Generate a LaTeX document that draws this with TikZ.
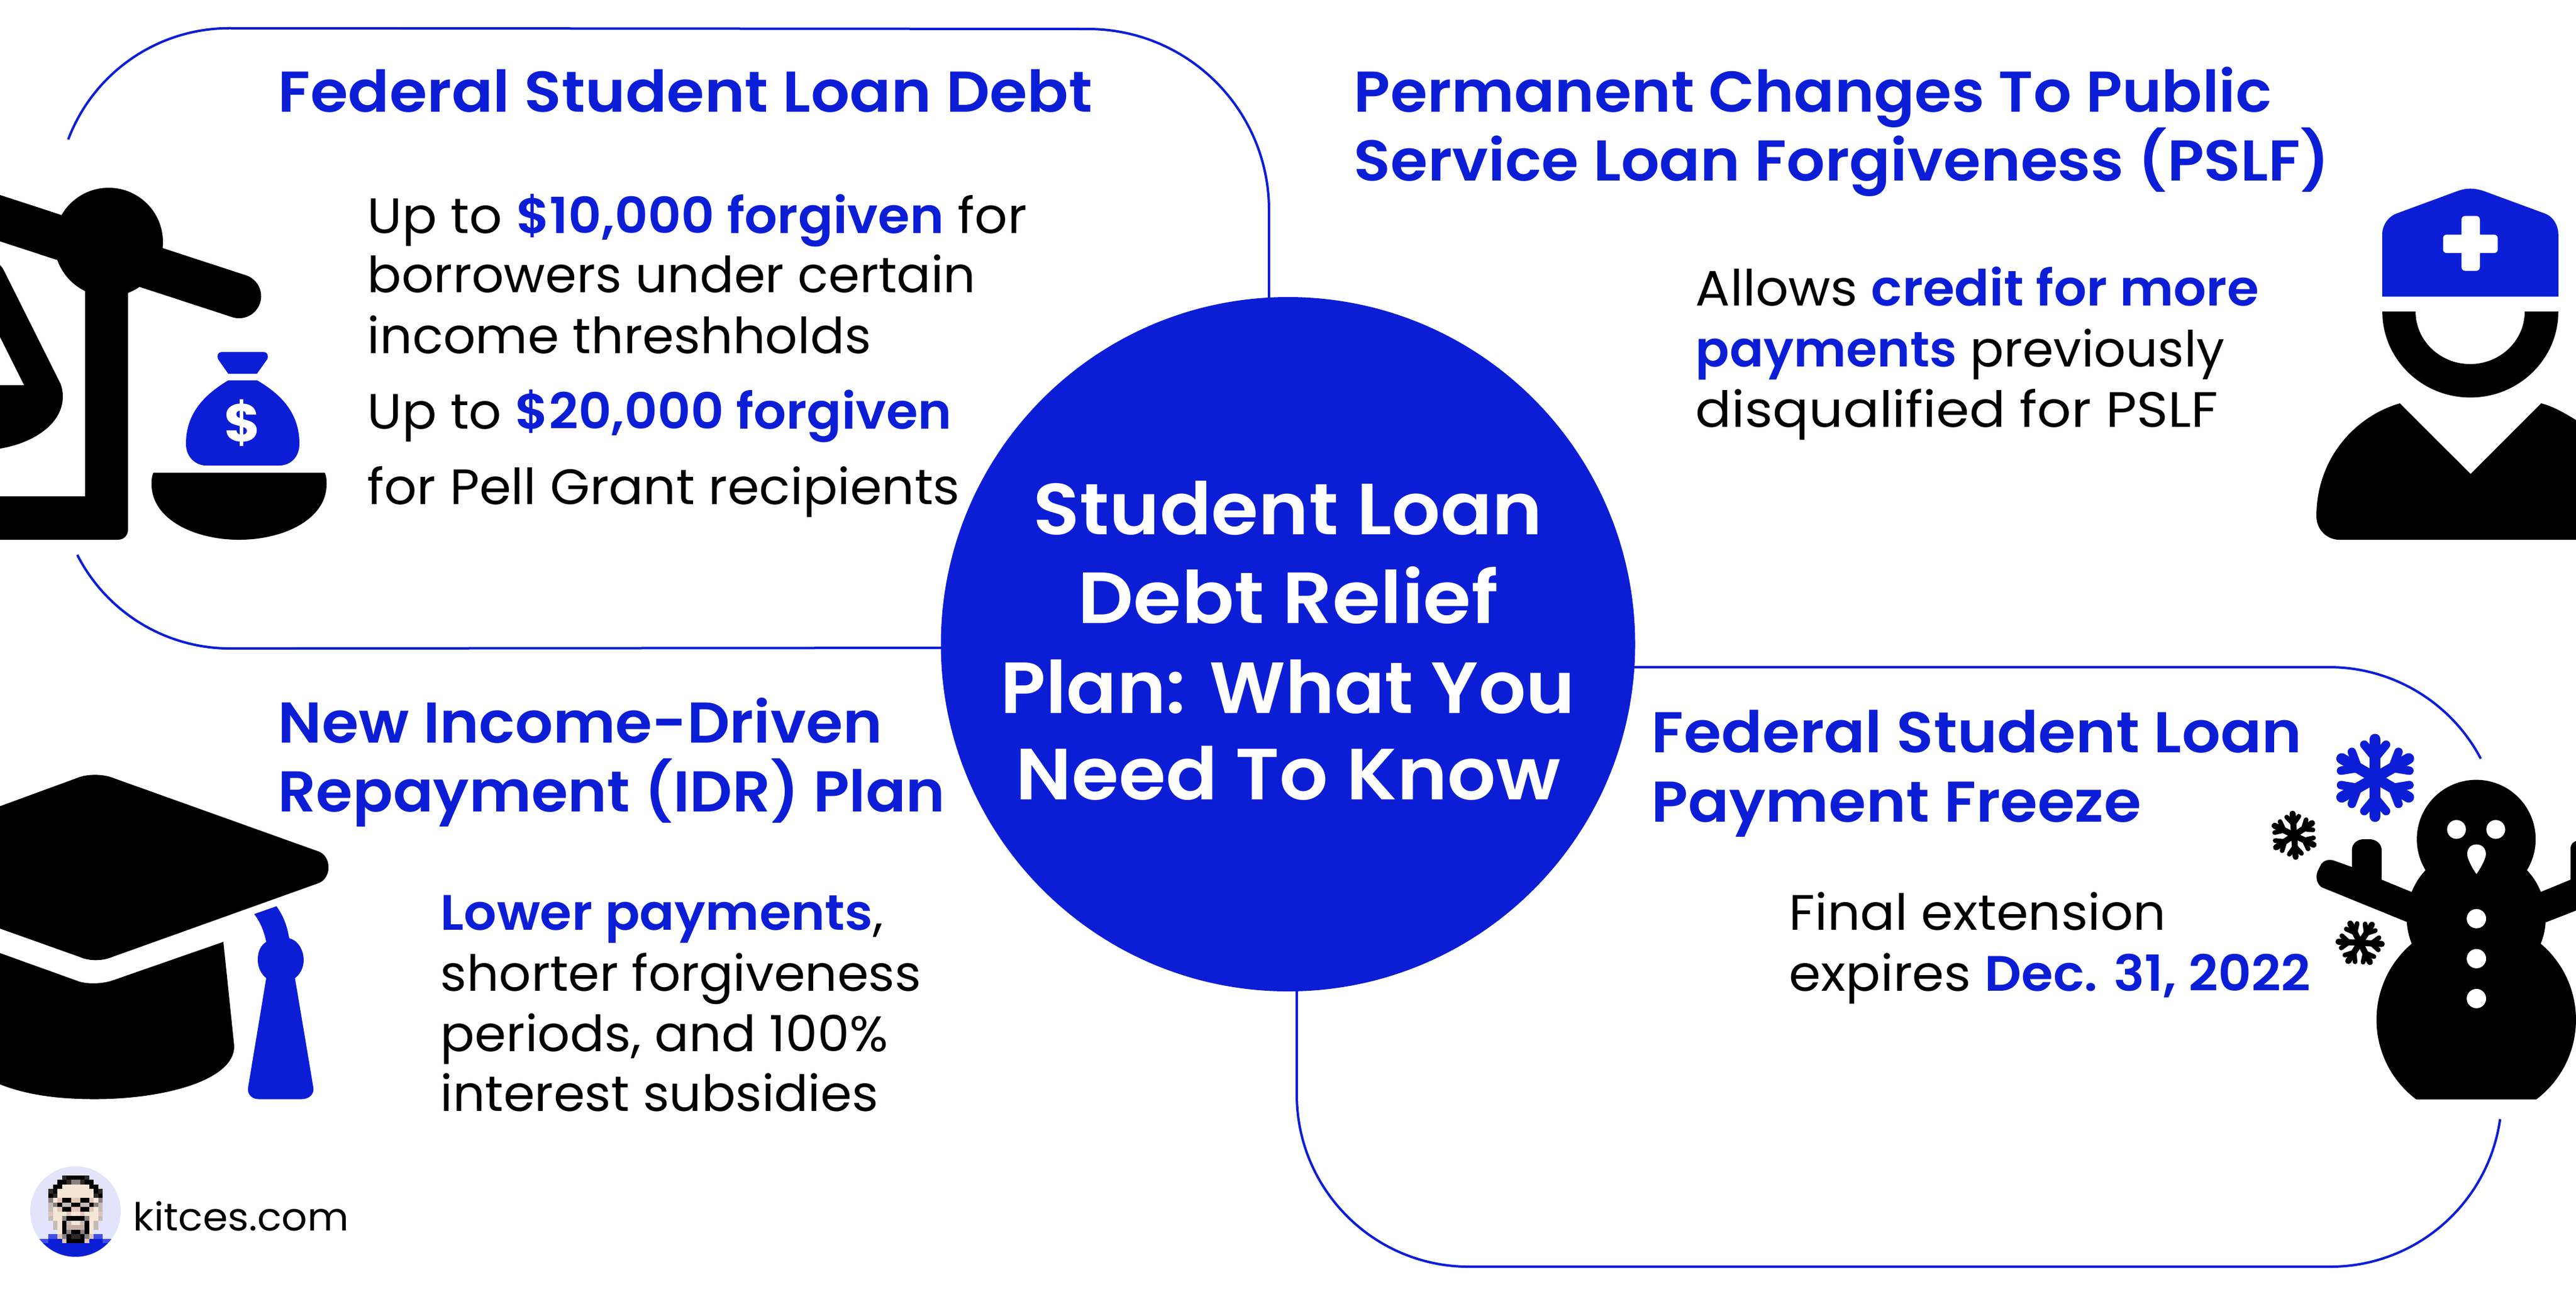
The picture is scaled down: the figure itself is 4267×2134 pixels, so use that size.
\documentclass[tikz,border=0pt]{standalone}
\usepackage{fontspec}
\usepackage{graphicx}
\setmainfont{Poppins}[FakeStretch=1.04]
\newfontfamily\headfont{Poppins SemiBold}[FakeStretch=1.04]
\newfontfamily\boldfont{Poppins SemiBold}[FakeStretch=1.04]
\definecolor{kblue}{HTML}{0B1ED6}
\definecolor{pxG}{HTML}{8A8080}
\definecolor{pxL}{HTML}{C5BAB5}
\definecolor{pxS}{HTML}{F5E6D5}
\definecolor{pxP}{HTML}{E0C5B8}
\definecolor{pxK}{HTML}{000000}
\definecolor{pxD}{HTML}{2E2A28}
\definecolor{pxT}{HTML}{C5AEA5}
\definecolor{pxB}{HTML}{0B1ED6}
\definecolor{pxH}{HTML}{3F4FE0}
\definecolor{logobg}{HTML}{E3E4FC}
\newcommand{\hl}[1]{{\boldfont\color{kblue}#1}}
\newcommand{\sx}[2]{\scalebox{#1}[1]{#2}}
\newcommand{\prow}[2]{\foreach \c/\k in {#2}{\fill[color=px\k] ({50+7.5*\c},{1931.7+7.5*#1}) rectangle +(7.6,7.6);}}
\newcommand{\flake}[5]{\begin{scope}[shift={(#1,#2)},rotate=#4,scale=#3,color=#5,line cap=round]
\foreach \a in {0,60,...,300}{
\begin{scope}[rotate=\a]
\draw[line width=4.5pt*#3] (0,0) -- (0,-64);
\draw[line width=3.5pt*#3] (0,-33) -- (-18,-55);
\draw[line width=3.5pt*#3] (0,-33) -- (18,-55);
\end{scope}}
\end{scope}}
\tikzset{
  rule/.style={draw=kblue,line width=1pt},
  head/.style={anchor=base west,inner sep=0pt,text=kblue,font=\headfont\fontsize{23.8}{28}\selectfont},
  body/.style={anchor=base west,inner sep=0pt,text=black,font=\fontsize{20.6}{25}\selectfont},
  hubtext/.style={anchor=base,inner sep=0pt,text=white,font=\headfont\fontsize{30}{36}\selectfont},
}
\begin{document}
\begin{tikzpicture}[x=0.25pt,y=-0.25pt]
\path[use as bounding box] (0,0) rectangle (4267,2134);
\clip (0,0) rectangle (4267,2134);
\fill[white] (0,0) rectangle (4267,2134);
% rules
\draw[rule] (113,231) arc[start angle=159.3,end angle=90,radius=71.25pt] -- (1802,48) arc[start angle=90,end angle=0,radius=75pt] -- (2102,500);
\draw[rule] (128,919) arc[start angle=207,end angle=270,radius=71pt] -- (1600,1073);
\draw[rule] (2700,1105) -- (3858,1105) arc[start angle=90,end angle=27.8,radius=71pt];
\draw[rule] (2148,1630) -- (2148,1813) arc[start angle=180,end angle=270,radius=71.25pt] -- (3860,2098) arc[start angle=270,end angle=352,radius=71pt];
% hub
\node[circle,fill=kblue,minimum size=287.5pt,inner sep=0pt] (hub) at (2133.5,1067) {};
\node[hubtext] (t1) at (2133.5,885) {\sx{1.013}{Student Loan}};
\node[hubtext] (t2) at (2133.5,1032) {\sx{1.03}{Debt Relief}};
\node[hubtext] (t3) at (2133.5,1181) {\sx{0.986}{Plan: What You}};
\node[hubtext] (t4) at (2133.5,1324) {\sx{1.012}{Need To Know}};
% headings
\node[head] (h1) at (460,185) {\sx{1.02}{Federal Student Loan Debt}};
\node[head] (h2a) at (2242,185) {\sx{1.002}{Permanent Changes To Public}};
\node[head] (h2b) at (2242,299) {\sx{1.01}{Service Loan Forgiveness (PSLF)}};
\node[head] (h3a) at (460,1230) {\sx{0.997}{New Income-Driven}};
\node[head] (h3b) at (460,1344) {\sx{0.993}{Repayment (IDR) Plan}};
\node[head] (h4a) at (2735,1246) {\sx{1.015}{Federal Student Loan}};
\node[head] (h4b) at (2735,1361) {\sx{1.01}{Payment Freeze}};
% bodies
\node[body] (b1) at (608,386) {\sx{0.995}{Up to \hl{\$10,000 forgiven} for}};
\node[body] (b2) at (608,484) {\sx{0.976}{borrowers under certain}};
\node[body] (b3) at (608,585) {\sx{0.98}{income threshholds}};
\node[body] (b4) at (608,710) {\sx{0.99}{Up to \hl{\$20,000 forgiven}}};
\node[body] (b5) at (608,835) {\sx{0.989}{for Pell Grant recipients}};
\node[body] (c1) at (2808,506) {\sx{0.994}{Allows \hl{credit for more}}};
\node[body] (c2) at (2808,607) {\sx{0.967}{\hl{payments} previously}};
\node[body] (c3) at (2808,707) {\sx{1.033}{disqualified for PSLF}};
\node[body] (d1) at (729,1540) {\sx{0.993}{\hl{Lower payments},}};
\node[body] (d2) at (729,1641) {\sx{0.973}{shorter forgiveness}};
\node[body] (d3) at (729,1741) {\sx{0.982}{periods, and 100\%}};
\node[body] (d4) at (729,1840) {\sx{0.974}{interest subsidies}};
\node[body] (e1) at (2963,1540) {\sx{0.991}{Final extension}};
\node[body] (e2) at (2963,1641) {\sx{0.994}{expires \hl{Dec. 31, 2022}}};
% scale
\draw[line width=18.25pt,line cap=round,black] (-50,345) -- (396,490.6);
\fill (180,401) circle[radius=22.5pt];
\fill (0,822) -- (141,822) -- (141,450) -- (212,450) -- (212,877) .. controls (212,887) and (205,894) .. (195,894) -- (0,894) -- cycle;
\fill[even odd rule] (-10,430) -- (0,439) .. controls (4,443) and (6,447) .. (8,451) -- (100,635) .. controls (103,642) and (104,650) .. (104,657) .. controls (104,705) and (50,735) .. (0,743) -- (-10,743) -- cycle (-10,538) -- (40,638) -- (-10,638) -- cycle;
\fill (254,783) -- (538,783) .. controls (541,790) and (541,795) .. (541,802) .. controls (541,860) and (470,894) .. (396,894) .. controls (322,894) and (251,860) .. (251,802) .. controls (251,795) and (251,790) .. (254,783) -- cycle;
\fill[kblue] (378,619) -- (362,596) .. controls (358,590) and (361,583) .. (367,583) -- (437,583) .. controls (443,583) and (446,590) .. (442,596) -- (425.6,619) -- cycle;
\fill[kblue] (378,630) .. controls (345,650) and (308,680) .. (308,735) .. controls (308,758) and (325,771) .. (341,771) -- (463,771) .. controls (480,771) and (496,758) .. (496,735) .. controls (496,680) and (460,650) .. (426,630) -- cycle;
\node[text=white,inner sep=0pt,font=\bfseries\fontsize{22}{26}\selectfont] (dollar) at (402,700) {\$};
% nurse
\fill[kblue] (3946,491.4) -- (3946,388) .. controls (3946,372) and (3957,358) .. (3970,353.5) -- (4070,316.7) .. controls (4085,311) and (4098,311) .. (4115,316.7) -- (4215,353.5) .. controls (4228,358) and (4237.7,372) .. (4237.7,388) -- (4237.7,491.4) -- cycle;
\fill[white,rounded corners=1.5pt] (4046.7,388.6) rectangle (4137.3,419.2);
\fill[white,rounded corners=1.5pt] (4077.3,357.6) rectangle (4107.7,448.6);
\fill (3946,516) -- (4001.2,516) arc[start angle=180,end angle=360,x radius=22.6pt,y radius=21.75pt] -- (4237.7,516) arc[start angle=0,end angle=-180,x radius=36.45pt,y radius=35.6pt] -- cycle;
\fill (3837,855) .. controls (3837,760) and (3900,690) .. (3975,668) -- (4092.3,785) -- (4209.3,668) .. controls (4232,674) and (4250,685) .. (4290,710) -- (4290,894) -- (3875,894) .. controls (3855,894) and (3837,878) .. (3837,855) -- cycle;
% grad cap
\fill (-10,1339) -- (132,1287) .. controls (147,1282) and (170,1282) .. (186,1288) -- (527,1410) .. controls (550,1418) and (550,1455) .. (527,1463) -- (186,1585) .. controls (170,1592) and (147,1592) .. (132,1585) -- (0,1538) -- (-10,1534) -- cycle;
\fill (-10,1575) -- (132,1626) .. controls (147,1630) and (170,1630) .. (189,1623) -- (370,1560) -- (388,1733) .. controls (388,1790) and (270,1820.5) .. (157,1820.5) .. controls (90,1820.5) and (40,1812) .. (0,1796) -- (-10,1792) -- cycle;
\fill[kblue] (421,1514) -- (458,1501) .. controls (468,1515) and (475,1530) .. (479,1554) .. controls (495,1558) and (503,1575) .. (503,1590) .. controls (503,1603) and (497,1614) .. (488.6,1620) -- (519,1801) .. controls (521,1812) and (512,1820.5) .. (500,1820.5) -- (428.6,1820.5) .. controls (417,1820.5) and (409,1812) .. (411,1801) -- (441,1620) .. controls (433,1614) and (427,1603) .. (427,1590) .. controls (427,1575) and (432,1566) .. (441,1560) .. controls (438,1545) and (432,1528) .. (421,1514) -- cycle;
% snowman
\begin{scope}
\clip (3800,1200) rectangle (4267,1820.5);
\fill (4101.7,1689) circle[radius=41.3pt];
\fill (4101.7,1520) circle[radius=28.8pt];
\fill (4101.7,1390) circle[radius=24.6pt];
\fill (3995,1477.5) -- (3945,1457) -- (3945,1408) .. controls (3945,1397) and (3935,1390) .. (3925,1390) -- (3915,1390) .. controls (3905,1390) and (3895.7,1397) .. (3895.7,1408) -- (3895.7,1436) -- (3865,1425) .. controls (3857,1423) and (3849,1425) .. (3845,1431) -- (3839,1443) .. controls (3834,1455) and (3840,1467) .. (3846.7,1470) -- (3986.7,1527) -- cycle;
\fill (4208,1477.5) -- (4258,1457) -- (4258,1405.5) .. controls (4258,1398) and (4262,1394) .. (4270,1392) -- (4270,1507) -- (4217,1527.6) -- cycle;
\fill[white] (4069,1373.8) circle[radius=3.9pt];
\fill[white] (4134,1373.8) circle[radius=3.9pt];
\fill[white] (4102,1398.6) .. controls (4092,1398.6) and (4086.7,1406) .. (4086.7,1414.7) .. controls (4086.7,1422) and (4095,1438) .. (4102,1447.7) .. controls (4109,1438) and (4117.7,1422) .. (4117.7,1414.7) .. controls (4117.7,1406) and (4112,1398.6) .. (4102,1398.6) -- cycle;
\fill[white] (4102,1521.6) circle[radius=4pt];
\fill[white] (4102,1587.8) circle[radius=4pt];
\fill[white] (4102,1653.9) circle[radius=4pt];
\end{scope}
\flake{3934.3}{1288.4}{1}{0}{kblue}
\flake{3800}{1383.4}{0.56}{4}{black}
\flake{3909.3}{1561.6}{0.56}{27}{black}
% logo
\begin{scope}
\fill[logobg] (125,2006.7) circle[radius=18.75pt];
\clip (125,2006.7) circle[radius=18.75pt];
\prow{2}{7/D,8/K,9/K,10/K,11/K,12/D}
\prow{3}{6/K,7/K,8/D,9/G,10/G,11/D,12/K,13/K}
\prow{4}{5/K,6/K,7/S,8/S,9/S,10/S,11/S,12/S,13/K,14/K}
\prow{5}{4/D,5/K,6/S,7/S,8/S,9/S,10/S,11/S,12/S,13/S,14/K,15/D}
\prow{6}{4/K,5/D,6/S,7/S,8/S,9/S,10/S,11/S,12/S,13/S,14/D,15/K}
\prow{7}{4/G,5/S,6/P,7/K,8/K,9/P,10/P,11/K,12/K,13/P,14/S,15/G}
\prow{8}{4/L,5/G,6/K,7/L,8/L,9/K,10/K,11/L,12/L,13/K,14/G,15/L}
\prow{9}{4/L,5/S,6/P,7/K,8/K,9/P,10/P,11/K,12/K,13/P,14/S,15/L}
\prow{10}{4/P,5/S,6/S,7/S,8/P,9/S,10/S,11/P,12/S,13/S,14/S,15/P}
\prow{11}{4/L,5/S,6/S,7/G,8/K,9/K,10/K,11/K,12/G,13/S,14/S,15/L}
\prow{12}{5/L,6/S,7/K,8/L,9/S,10/S,11/L,12/K,13/S,14/L}
\prow{13}{5/L,6/S,7/K,8/T,9/T,10/T,11/T,12/K,13/S,14/L}
\prow{14}{6/S,7/K,8/G,9/K,10/K,11/G,12/K,13/S}
\prow{15}{4/H,5/H,6/P,7/G,8/K,9/D,10/D,11/K,12/G,13/P,14/H,15/H}
\prow{16}{2/H,3/H,4/B,5/B,6/B,7/P,8/K,9/K,10/K,11/K,12/P,13/B,14/B,15/B,16/H,17/H}
\foreach \rr in {17,18,19}{\prow{\rr}{0/B,1/B,2/B,3/B,4/B,5/B,6/B,7/B,8/B,9/B,10/B,11/B,12/B,13/B,14/B,15/B,16/B,17/B,18/B,19/B}}
\end{scope}
\node[anchor=base west,inner sep=0pt,font=\fontsize{16}{20}\selectfont] (brand) at (220,2038) {kitces.com};
\end{tikzpicture}
\end{document}
